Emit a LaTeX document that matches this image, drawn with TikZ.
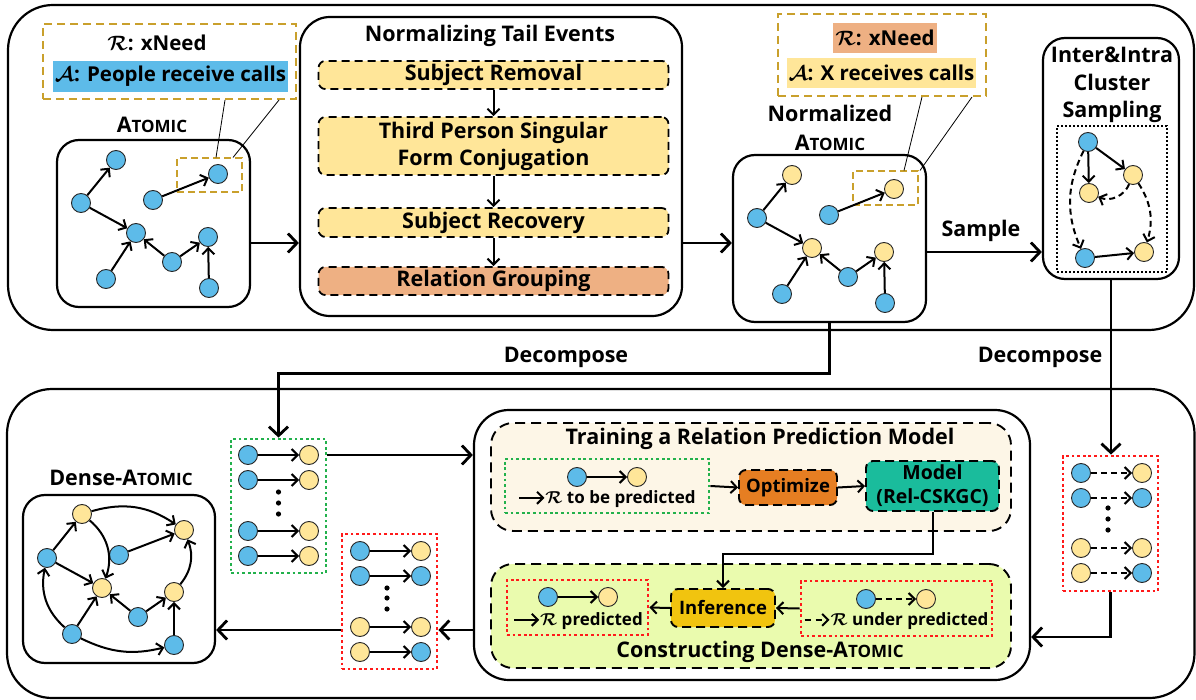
\documentclass[tikz,border=0pt]{standalone}
\usepackage{fontspec}
\setmainfont{Open Sans}
\usepackage{bm}
\usetikzlibrary{arrows.meta}

\definecolor{nblue}{HTML}{5DBBE9}
\definecolor{nyel}{HTML}{FFE699}
\definecolor{gold}{HTML}{C9A02C}
\definecolor{salmon}{HTML}{EEB083}
\definecolor{cream}{HTML}{FDF6E7}
\definecolor{lime}{HTML}{EAFBAE}
\definecolor{optorange}{HTML}{E67E22}
\definecolor{modteal}{HTML}{1ABC9C}
\definecolor{infyel}{HTML}{F1C40F}
\definecolor{dotgreen}{HTML}{22B14C}
\definecolor{dotred}{HTML}{FF1A1A}

\newcommand{\atm}[1]{A{\fontsize{#1}{#1}\selectfont TOMIC}}
\newcommand{\solarr}{\tikz[baseline=-0.6ex]\draw[line width=2pt,-{Straight Barb[length=6pt,width=12pt]}] (0pt,0pt) -- (25pt,0pt);}
\newcommand{\dsharr}{\tikz[baseline=-0.6ex]\draw[line width=2pt,dash pattern=on 6pt off 5pt,-{Straight Barb[length=6pt,width=12pt]}] (0pt,0pt) -- (25pt,0pt);}

\tikzset{
  bn/.style={circle, draw=black!85, line width=0.9pt, fill=nblue, minimum size=19, inner sep=0pt},
  yn/.style={bn, fill=nyel},
  ed/.style={line width=2pt, -{Straight Barb[length=6pt,width=12pt]}},
  ded/.style={ed, dash pattern=on 6pt off 4pt},
  arr/.style={line width=2.8pt, -{Straight Barb[length=9pt,width=19pt]}},
  lbl/.style={font=\fontsize{21.5}{25}\selectfont\bfseries},
  annotxt/.style={font=\fontsize{20.5}{24}\selectfont\bfseries},
  txtS/.style={font=\fontsize{17}{20}\selectfont\bfseries},
  gbox/.style={draw, line width=2.2pt, rounded corners=22, minimum width=193, minimum height=167},
  zbox/.style={draw=gold, line width=2pt, dash pattern=on 7pt off 4pt, minimum width=65, minimum height=34},
  anno/.style={draw=gold, line width=2pt, dash pattern=on 8pt off 5pt},
  stepbox/.style={draw, line width=1.8pt, dash pattern=on 8pt off 5pt, rounded corners=7, fill=nyel, minimum width=350, font=\fontsize{21.5}{27}\selectfont\bfseries, align=center},
  dotbox/.style={line width=2.8pt, dash pattern=on 2.8pt off 2.8pt},
  panel/.style={draw, line width=1.9pt, dash pattern=on 10pt off 6pt, rounded corners=22, minimum width=520},
  tagbox/.style={draw, line width=1.9pt, dash pattern=on 9pt off 5pt, rounded corners=7, font=\fontsize{18.5}{23}\selectfont\bfseries, align=center},
}

\begin{document}
\begin{tikzpicture}[x=1pt, y=-1pt]
\useasboundingbox (0,0) rectangle (1196,700);
% Frames
\draw[line width=2.2pt, rounded corners=45] (8,5) rectangle (1194,330);
\draw[line width=2.2pt, rounded corners=45] (7,389) rectangle (1194.5,698);
% ATOMIC
\node[anno, minimum width=253, minimum height=75] (annoA) at (169.5,61.5) {};
\node[annotxt] (relA) at (157,43) {$\bm{\mathcal{R}}$: xNeed};
\node[annotxt, fill=nblue, inner sep=2pt, minimum height=31] (tailA) at (170.5,76.5) {$\bm{\mathcal{A}}$: People receive calls};
\node[lbl] (atomictitle) at (152,125) {\atm{17}};
\node[gbox] (atomicbox) at (153.5,223.5) {};
\node[zbox] (zoomA) at (209.5,175.5) {};
\node[bn] (a1) at (116,160) {};
\node[bn] (a2) at (81,203) {};
\node[bn] (a3) at (153,200) {};
\node[bn] (a4) at (218,174) {};
\node[bn] (a5) at (136,233) {};
\node[bn] (a6) at (208,237) {};
\node[bn] (a7) at (106,279) {};
\node[bn] (a8) at (172,262) {};
\node[bn] (a9) at (209,288) {};
\foreach \s/\t in {a2/a1,a2/a5,a3/a4,a7/a5,a8/a5,a8/a6,a9/a6}
  \draw[ed] (\s) -- (\t);
\draw[line width=0.8pt] (annoA.south -| 225,0) -- (zoomA.north -| 216,0);
\draw[line width=0.8pt] (annoA.south -| 279,0) -- (zoomA.north -| 233,0);
% Normalizing tail events
\node[draw, line width=2.2pt, rounded corners=30, minimum width=382, minimum height=299] (normbox) at (491,166.5) {};
\node[lbl] (normtitle) at (490,36) {Normalizing Tail Events};
\node[stepbox, minimum height=28] (stepA) at (493.5,75) {Subject Removal};
\node[stepbox, minimum height=58] (stepB) at (493.5,146) {Third Person Singular\\Form Conjugation};
\node[stepbox, minimum height=29] (stepC) at (493.5,222.5) {Subject Recovery};
\node[stepbox, minimum height=28, fill=salmon] (stepD) at (493.5,281) {Relation Grouping};
\draw[ed] (stepA) -- (stepB);
\draw[ed] (stepB) -- (stepC);
\draw[ed] (stepC) -- (stepD);
\draw[arr] (atomicbox.east |- 0,243) -- (normbox.west |- 0,243);
% Normalized ATOMIC
\node[anno, minimum width=208, minimum height=82] (annoB) at (882,55) {};
\node[annotxt, fill=salmon, inner sep=2pt, minimum height=30] (relB) at (885,38) {$\bm{\mathcal{R}}$: xNeed};
\node[annotxt, fill=nyel, inner sep=2pt, minimum height=30] (tailB) at (881.5,73) {$\bm{\mathcal{A}}$: X receives calls};
\node[lbl, align=center, font=\fontsize{21.5}{29}\selectfont\bfseries] (natomictitle) at (830,128) {Normalized\\\atm{17}};
\node[gbox] (natomicbox) at (829.5,238.5) {};
\node[zbox] (zoomB) at (885.5,188.5) {};
\node[yn] (b1) at (792,175) {};
\node[bn] (b2) at (757,218) {};
\node[bn] (b3) at (829,215) {};
\node[yn] (b4) at (894,189) {};
\node[yn] (b5) at (812,248) {};
\node[yn] (b6) at (884,252) {};
\node[bn] (b7) at (782,294) {};
\node[bn] (b8) at (848,277) {};
\node[bn] (b9) at (885,303) {};
\foreach \s/\t in {b2/b1,b2/b5,b3/b4,b7/b5,b8/b5,b8/b6,b9/b6}
  \draw[ed] (\s) -- (\t);
\draw[line width=0.8pt] (annoB.south -| 922,0) -- (zoomB.north -| 904,0);
\draw[line width=0.8pt] (annoB.south -| 972,0) -- (zoomB.north -| 920,0);
\draw[arr] (normbox.east |- 0,243) -- (natomicbox.west |- 0,243);
% Inter & intra cluster sampling
\node[draw, line width=2.2pt, rounded corners=22, minimum width=136, minimum height=241] (interbox) at (1111,158.5) {};
\node[lbl, align=center, font=\fontsize{21.5}{27.5}\selectfont\bfseries] (intertitle) at (1112,85) {Inter\&Intra\\Cluster\\Sampling};
\node[draw, line width=2pt, dash pattern=on 2pt off 2pt, minimum width=110, minimum height=146] (interdots) at (1112,199) {};
\node[bn] (c1) at (1088,142) {};
\node[yn] (c2) at (1133,175) {};
\node[yn] (c3) at (1089,193) {};
\node[bn] (c4) at (1085,258) {};
\node[yn] (c5) at (1144,252) {};
\draw[ed] (c1) -- (c2);
\draw[ed] (c1) -- (c3);
\draw[ed] (c4) -- (c5);
\draw[ded] (c2) to[bend left=45] (c3);
\draw[ded] (c2) to[bend left=25] (c5);
\draw[ded] (c1) to[bend right=25] (c4);
\draw[arr] (natomicbox.east |- 0,252) -- (interbox.west |- 0,252);
\node[lbl] (samplelbl) at (981,231) {Sample};
% Decompose
\node[lbl] (decL) at (566,357) {Decompose};
\node[lbl] (decR) at (1040,357) {Decompose};
\node[draw=dotgreen, dotbox, minimum width=95, minimum height=134] (greenbox) at (278.5,506) {};
\node[draw=dotred, dotbox, minimum width=95, minimum height=135] (redR) at (1110.5,523.5) {};
\node[draw=dotred, dotbox, minimum width=95, minimum height=135] (redL) at (389.5,601.5) {};
\draw[arr] (natomicbox.south) -- ++(0,50) -| (greenbox.north);
\draw[arr] (interbox.south) -- (interbox.south |- redR.north);
\foreach \y/\i in {455/1,480/2,531/3,556/4} {
  \node[bn] (gl\i) at (248,\y) {};
  \node[yn] (gr\i) at (309,\y) {};
  \draw[ed] (gl\i) -- (gr\i);
}
\foreach \y/\a/\b/\i in {473/bn/yn/1,498/bn/bn/2,548/yn/yn/3,573/yn/bn/4} {
  \node[\a] (rl\i) at (1081,\y) {};
  \node[\b] (rr\i) at (1142,\y) {};
  \draw[ded] (rl\i) -- (rr\i);
}
\foreach \y/\a/\b/\i in {551/bn/yn/1,576/bn/bn/2,627/yn/yn/3,652/yn/bn/4} {
  \node[\a] (pl\i) at (360,\y) {};
  \node[\b] (pr\i) at (421,\y) {};
  \draw[ed] (pl\i) -- (pr\i);
}
\foreach \y in {492,503,514} \fill (278.5,\y) circle (2.6);
\foreach \y in {508,519,530} \fill (1108,\y) circle (2.6);
\foreach \y in {588,598,609} \fill (387,\y) circle (2.6);
% Relation prediction and dense construction
\node[draw, line width=2.2pt, rounded corners=35, minimum width=556, minimum height=270] (botmid) at (752,545) {};
\node[panel, fill=cream, minimum height=108] (trainbox) at (751,477) {};
\node[lbl] (traintitle) at (760,439) {Training a Relation Prediction Model};
\node[draw=dotgreen, dotbox, minimum width=204, minimum height=54] (gsmall) at (607,486) {};
\node[bn] (t1) at (577,477) {};
\node[yn] (t2) at (637,477) {};
\draw[ed] (t1) -- (t2);
\node[txtS] (tlegend) at (607,499) {\solarr$\bm{\mathcal{R}}$ to be predicted};
\node[tagbox, fill=optorange, minimum width=98, minimum height=35] (opt) at (788,487.5) {Optimize};
\node[tagbox, fill=modteal, minimum width=133, minimum height=50, font=\fontsize{19.5}{24}\selectfont\bfseries] (model) at (932.5,486) {Model\\(Rel-CSKGC)};
\draw[ed] (gsmall.east) -- (opt.west);
\draw[ed] (opt.east) -- (model.west);
\node[panel, fill=lime, minimum height=104] (constbox) at (751,616) {};
\node[lbl] (consttitle) at (760,652) {Constructing Dense-\atm{17}};
\node[draw=dotred, dotbox, minimum width=141, minimum height=55] (redP) at (577.5,607.5) {};
\node[bn] (p1) at (548,597) {};
\node[yn] (p2) at (608,597) {};
\draw[ed] (p1) -- (p2);
\node[txtS] (plegend) at (578,621) {\solarr$\bm{\mathcal{R}}$ predicted};
\node[tagbox, fill=infyel, minimum width=104, minimum height=38] (infer) at (723,608) {Inference};
\node[draw=dotred, dotbox, minimum width=191, minimum height=55] (redU) at (896.5,608.5) {};
\node[bn] (u1) at (866,599) {};
\node[yn] (u2) at (926,599) {};
\draw[ded] (u1) -- (u2);
\node[txtS] (ulegend) at (896,621) {\dsharr$\bm{\mathcal{R}}$ under predicted};
\draw[ed] (model.south) -- ++(0,42) -| (infer.north);
\draw[ed] (infer.west) -- (redP.east);
\draw[ed] (redU.west) -- (infer.east);
\draw[arr] (greenbox.east |- 0,455) -- (botmid.west |- 0,455);
\draw[arr] (redR.south) |- (botmid.east |- 0,637);
\draw[arr] (botmid.west |- 0,630) -- (redL.east |- 0,630);
% Dense-ATOMIC
\node[lbl] (densetitle) at (121,478) {Dense-\atm{17}};
\node[gbox, minimum width=192, minimum height=168] (densebox) at (119,579) {};
\node[yn] (d1) at (82,514) {};
\node[yn] (d2) at (184,530) {};
\node[bn] (d3) at (47,558) {};
\node[bn] (d4) at (119,555) {};
\node[yn] (d5) at (102,588) {};
\node[yn] (d6) at (174,592) {};
\node[bn] (d7) at (138,617) {};
\node[bn] (d8) at (72,634) {};
\node[bn] (d9) at (174,645) {};
\foreach \s/\t in {d3/d1,d3/d5,d4/d2,d8/d5,d7/d5,d7/d6,d9/d6}
  \draw[ed] (\s) -- (\t);
\draw[ed] (d1) to[bend left=25] (d2);
\draw[ed] (d1) to[bend left=35] (d5);
\draw[ed] (d8) to[bend left=30] (d3);
\draw[ed] (d8) to[bend right=20] (d9);
\draw[ed] (d6) to[bend right=30] (d2);
\draw[arr] (redL.west |- 0,630) -- (densebox.east |- 0,630);
\end{tikzpicture}
\end{document}
